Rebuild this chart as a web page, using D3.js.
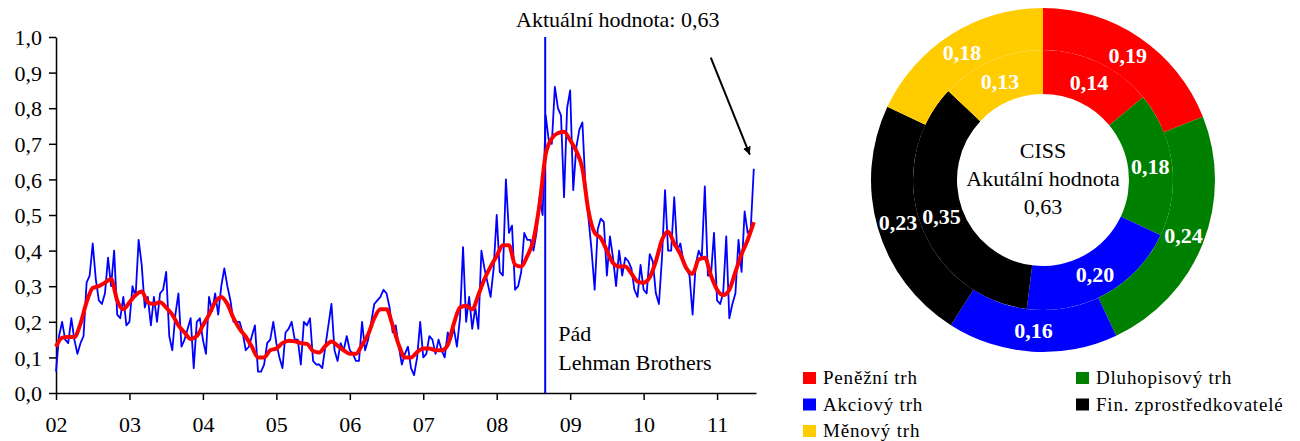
<!DOCTYPE html>
<html><head><meta charset="utf-8">
<script src="https://cdn.jsdelivr.net/npm/d3@7/dist/d3.min.js"></script>
<style>
body{margin:0;background:#fff}
text{font-family:"Liberation Serif","Times New Roman",serif}
</style>
</head><body>
<svg id="c" width="1300" height="441"></svg>
<script>
// ---------- data ----------
const yearTicks = [2002,2003,2004,2005,2006,2007,2008,2009,2010,2011];
const yearLabels = ["02","03","04","05","06","07","08","09","10","11"];
const yTicks = [0,0.1,0.2,0.3,0.4,0.5,0.6,0.7,0.8,0.9,1.0];

// CISS, semi-monthly readings from 2002.0
const cissStart = 2002, cissPerYear = 24;
const ciss2002 = [0.06,0.16,0.20,0.15,0.14,0.21,0.15,0.11,0.14,0.16,0.31,0.33,0.42,0.32,0.26,0.25,0.28,0.38,0.30,0.40,0.22,0.21,0.27,0.19];
const ciss2003 = [0.20,0.30,0.27,0.43,0.36,0.24,0.27,0.19,0.27,0.20,0.28,0.29,0.34,0.16,0.12,0.22,0.28,0.13,0.15,0.18,0.21,0.07,0.20,0.21];
const ciss2004 = [0.15,0.11,0.27,0.23,0.28,0.22,0.30,0.35,0.30,0.26,0.20,0.20,0.20,0.17,0.12,0.13,0.16,0.19,0.06,0.06,0.08,0.14,0.15,0.20];
const ciss2005 = [0.14,0.10,0.07,0.17,0.18,0.20,0.15,0.15,0.08,0.20,0.19,0.21,0.09,0.08,0.08,0.07,0.13,0.19,0.25,0.12,0.09,0.14,0.12,0.16];
const ciss2006 = [0.12,0.11,0.09,0.09,0.20,0.12,0.15,0.20,0.25,0.26,0.27,0.29,0.28,0.24,0.17,0.19,0.13,0.08,0.11,0.13,0.07,0.05,0.10,0.20];
const ciss2007 = [0.10,0.11,0.16,0.15,0.11,0.15,0.12,0.10,0.17,0.15,0.18,0.13,0.21,0.41,0.20,0.27,0.18,0.24,0.18,0.40,0.35,0.31,0.27,0.35];
const ciss2008 = [0.50,0.34,0.33,0.60,0.45,0.47,0.29,0.30,0.34,0.45,0.43,0.43,0.40,0.45,0.55,0.50,0.78,0.71,0.70,0.86,0.80,0.78,0.55,0.80];
const ciss2009 = [0.85,0.57,0.69,0.74,0.76,0.58,0.49,0.40,0.29,0.46,0.49,0.48,0.33,0.44,0.38,0.30,0.40,0.33,0.38,0.37,0.35,0.29,0.27,0.36];
const ciss2010 = [0.29,0.28,0.39,0.37,0.28,0.25,0.38,0.57,0.40,0.40,0.55,0.40,0.42,0.37,0.35,0.33,0.22,0.36,0.40,0.38,0.58,0.33,0.33,0.45];
const ciss2011 = [0.26,0.25,0.28,0.44,0.21,0.25,0.28,0.43,0.34,0.51,0.45,0.46,0.63];

// Smoothed CISS, monthly readings from 2002.0
const smoothStart = 2002, smoothPerYear = 12;
const smooth2002 = [0.13,0.155,0.157,0.157,0.195,0.255,0.295,0.30,0.31,0.32,0.26,0.235];
const smooth2003 = [0.255,0.275,0.285,0.255,0.25,0.255,0.24,0.22,0.19,0.17,0.152,0.16];
const smooth2004 = [0.19,0.22,0.255,0.27,0.25,0.21,0.18,0.158,0.13,0.10,0.10,0.12];
const smooth2005 = [0.125,0.14,0.147,0.145,0.14,0.138,0.118,0.114,0.132,0.145,0.133,0.12];
const smooth2006 = [0.11,0.11,0.135,0.165,0.21,0.235,0.235,0.19,0.135,0.10,0.10,0.115];
const smooth2007 = [0.125,0.125,0.12,0.12,0.135,0.195,0.24,0.245,0.235,0.275,0.32,0.355];
const smooth2008 = [0.385,0.415,0.415,0.36,0.355,0.385,0.43,0.53,0.67,0.715,0.73,0.734];
const smooth2009 = [0.71,0.68,0.63,0.51,0.45,0.435,0.40,0.365,0.355,0.355,0.336,0.313];
const smooth2010 = [0.31,0.325,0.37,0.43,0.453,0.42,0.39,0.35,0.335,0.375,0.38,0.33];
const smooth2011 = [0.29,0.275,0.29,0.34,0.39,0.43,0.48];

const lehmanDate = 2008.66;
const currentValue = 0.63;
const annotationText = "Aktuální hodnota: 0,63";
const lehmanText = ["Pád", "Lehman Brothers"];

// Donut
const segNames = ["Peněžní trh","Dluhopisový trh","Akciový trh","Fin. zprostředkovatelé","Měnový trh"];
const segColors = ["#FF0000","#008000","#0000FF","#000000","#FFCC00"];
const innerShares = [0.14,0.18,0.20,0.35,0.13];
const outerShares = [0.19,0.24,0.16,0.23,0.18];
const centerText = ["CISS","Akutální hodnota","0,63"];
const legendOrder = [0,2,4,1,3]; // column 1: red, blue, yellow; column 2: green, black

// ---------- build ----------
const ciss = [].concat(ciss2002,ciss2003,ciss2004,ciss2005,ciss2006,ciss2007,ciss2008,ciss2009,ciss2010,ciss2011)
  .map((v,i)=>({t: cissStart + i/cissPerYear, v}));
const smooth = [].concat(smooth2002,smooth2003,smooth2004,smooth2005,smooth2006,smooth2007,smooth2008,smooth2009,smooth2010,smooth2011)
  .map((v,i)=>({t: smoothStart + i/smoothPerYear, v}));

const svg = d3.select("#c");
const comma = f => d => d3.format(f)(d).replace(".", ",");
const SERIF = '"Liberation Serif","Times New Roman",serif';

const x = d3.scaleLinear().domain([2002, 2011.53]).range([56, 756]);
const y = d3.scaleLinear().domain([0, 1]).range([393, 37]);

const FS = 21;

// axes
const gy = svg.append("g").attr("transform","translate(56,0)")
  .call(d3.axisLeft(y).tickValues(yTicks).tickFormat(comma(".1f")).tickSize(7).tickSizeOuter(0).tickPadding(7));
const gx = svg.append("g").attr("transform","translate(0,393)")
  .call(d3.axisBottom(x).tickValues(yearTicks).tickFormat((d,i)=>yearLabels[i]).tickSize(7).tickSizeOuter(0).tickPadding(16));
[gy,gx].forEach(g=>{
  g.attr("font-family",SERIF);
  g.select(".domain").attr("stroke","#000").attr("stroke-width",1.5);
  g.selectAll(".tick line").attr("stroke","#000").attr("stroke-width",1.5);
  g.selectAll("text").style("font-family",SERIF).attr("font-size",22).attr("fill","#000");
});
gy.selectAll("text").attr("dy","0.35em");

// Lehman line
svg.append("line")
  .attr("x1",x(lehmanDate)).attr("x2",x(lehmanDate))
  .attr("y1",y(1)).attr("y2",y(0))
  .attr("stroke","#0000FF").attr("stroke-width",2);

// series
svg.append("path").datum(ciss)
  .attr("fill","none").attr("stroke","#0000FF").attr("stroke-width",1.8).attr("stroke-linejoin","round")
  .attr("d", d3.line().x(d=>x(d.t)).y(d=>y(d.v)));
svg.append("path").datum(smooth)
  .attr("fill","none").attr("stroke","#FF0000").attr("stroke-width",4).attr("stroke-linejoin","round")
  .attr("d", d3.line().curve(d3.curveMonotoneX).x(d=>x(d.t)).y(d=>y(d.v)));

// annotations
svg.append("text").attr("x",516).attr("y",27).attr("font-size",22).text(annotationText);
svg.selectAll("text.leh").data(lehmanText).join("text").attr("class","leh")
  .attr("x", x(lehmanDate)+13).attr("y",(d,i)=>341+i*29).attr("font-size",22).text(d=>d);

const defs = svg.append("defs");
defs.append("marker").attr("id","ah").attr("viewBox","0 0 10 10").attr("refX",10).attr("refY",5)
  .attr("markerWidth",8).attr("markerHeight",8).attr("orient","auto-start-reverse").attr("markerUnits","userSpaceOnUse")
  .append("path").attr("d","M0,0 L10,5 L0,10 z").attr("fill","#000");
const last = ciss[ciss.length-1];
const tipX = x(last.t) - 4, tipY = y(currentValue) - 14;
svg.append("line").attr("x1",tipX-39).attr("y1",tipY-97).attr("x2",tipX).attr("y2",tipY)
  .attr("stroke","#000").attr("stroke-width",2).attr("marker-end","url(#ah)");

// donut
const cx = 1043, cy = 180;
const pie = d3.pie().sort(null).value(d=>d);
const rings = [
  {shares: innerShares, r0: 86, r1: 130},
  {shares: outerShares, r0: 130, r1: 172}
];
const gd = svg.append("g").attr("transform",`translate(${cx},${cy})`);
rings.forEach(ring=>{
  const arc = d3.arc().innerRadius(ring.r0).outerRadius(ring.r1);
  const arcs = pie(ring.shares);
  gd.append("g").selectAll("path").data(arcs).join("path")
    .attr("d",arc).attr("fill",(d,i)=>segColors[i]);
  gd.append("g").selectAll("text").data(arcs).join("text")
    .attr("transform",d=>`translate(${arc.centroid(d)})`)
    .attr("text-anchor","middle").attr("dy","0.35em")
    .attr("fill","#fff").attr("font-weight","bold").attr("font-size",22)
    .text(d=>comma(".2f")(d.data));
});
gd.selectAll("text.ct").data(centerText).join("text").attr("class","ct")
  .attr("text-anchor","middle").attr("y",(d,i)=>-22+i*28).attr("font-size",22).attr("fill","#000")
  .text(d=>d);

// legend
const lg = svg.append("g");
legendOrder.forEach((idx,k)=>{
  const col = k<3 ? 0 : 1, row = k<3 ? k : k-3;
  const lx = col===0 ? 803 : 1076, ly = 372 + row*26.5;
  lg.append("rect").attr("x",lx).attr("y",ly).attr("width",13).attr("height",12).attr("fill",segColors[idx]);
  lg.append("text").attr("x",lx+20).attr("y",ly+12).attr("font-size",19).attr("letter-spacing",0.8).attr("fill","#000").text(segNames[idx]);
});
</script>
</body></html>
